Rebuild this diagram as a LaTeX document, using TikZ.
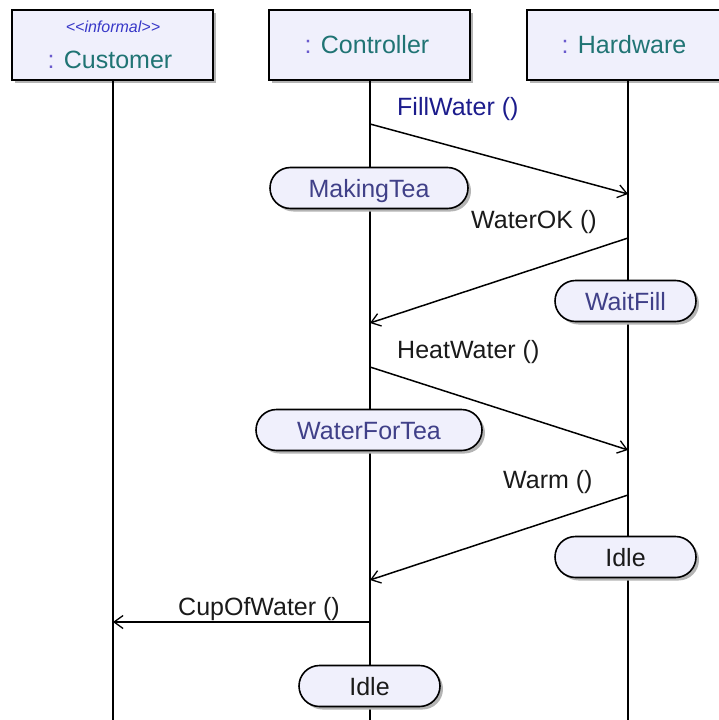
\documentclass[tikz,border=0pt]{standalone}
\usepackage{fontspec}
\setmainfont{Liberation Sans}
\usetikzlibrary{arrows.meta,shapes.misc,shadows}

\definecolor{boxfill}{HTML}{F0F0FC}
\definecolor{nametext}{HTML}{207474}
\definecolor{colontext}{HTML}{6A5ACD}
\definecolor{stereotext}{HTML}{3838C8}
\definecolor{statetext}{HTML}{404088}
\definecolor{calltext}{HTML}{1C1C8C}
\definecolor{msgtext}{HTML}{1A1A1A}
\definecolor{shade}{HTML}{B4B4B4}

\tikzset{
  every node/.style={font=\fontsize{25}{30}\selectfont, inner sep=0pt},
  obj/.style={draw=black, line width=2pt, fill=boxfill,
    minimum width=201pt, minimum height=70pt,
    drop shadow={shadow xshift=3pt, shadow yshift=-3pt, fill=shade, opacity=1}},
  objname/.style={text height=18pt, text depth=0pt},
  stereo/.style={font=\fontsize{16}{18}\selectfont\itshape, text=stereotext,
    text height=12pt, text depth=0pt},
  lifeline/.style={line width=2pt},
  statebox/.style={rounded rectangle, draw=black, line width=1.6pt, fill=boxfill,
    minimum height=41pt, text height=18pt, text depth=0pt, text=statetext,
    drop shadow={shadow xshift=3pt, shadow yshift=-3pt, fill=shade, opacity=1}},
  msg/.style={line width=1.5pt, -{Straight Barb[length=9pt, width=13pt, line width=1.3pt]}},
  msglabel/.style={anchor=base west, text=msgtext},
}

\newcommand{\objlabel}[1]{{\color{colontext}:} {\color{nametext}#1}}

\begin{document}
\begin{tikzpicture}[x=1pt, y=-1pt]
  \useasboundingbox (0,0) rectangle (719,720);
  \clip (0,0) rectangle (719,720);

  % object heads
  \node[obj] (cust) at (112.5,45) {};
  \node[obj] (ctrl) at (369.5,45) {};
  \node[obj] (hw)   at (627.5,45) {};
  \node[stereo] (custst) at (113,26) {{<}{<}informal{>}{>}};
  \node[objname] (custname) at (110,59) {\objlabel{Customer}};
  \node[objname] (ctrlname) at (367,44) {\objlabel{Controller}};
  \node[objname] (hwname)   at (624,44) {\objlabel{Hardware}};

  % lifeline ends
  \coordinate (custEnd) at (113,725);
  \coordinate (ctrlEnd) at (370,725);
  \coordinate (hwEnd)   at (628,725);

  \draw[lifeline] (cust.south -| custEnd) -- (custEnd);
  \draw[lifeline] (ctrl.south -| ctrlEnd) -- (ctrlEnd);
  \draw[lifeline] (hw.south -| hwEnd) -- (hwEnd);

  % message end points on the lifelines
  \coordinate (m1s) at (370,124);  \coordinate (m1e) at (628,194);
  \coordinate (m2s) at (628,238);  \coordinate (m2e) at (370,323);
  \coordinate (m3s) at (370,367);  \coordinate (m3e) at (628,450);
  \coordinate (m4s) at (628,495);  \coordinate (m4e) at (370,580);
  \coordinate (m5s) at (370,622);  \coordinate (m5e) at (113,622);

  \draw[msg] (m1s) -- (m1e);
  \draw[msg] (m2s) -- (m2e);
  \draw[msg] (m3s) -- (m3e);
  \draw[msg] (m4s) -- (m4e);
  \draw[msg] (m5s) -- (m5e);

  \node[msglabel, text=calltext] (l1) at (397,115) {FillWater ()};
  \node[msglabel] (l2) at (471,228) {WaterOK ()};
  \node[msglabel] (l3) at (397,358) {HeatWater ()};
  \node[msglabel] (l4) at (503,488) {Warm ()};
  \node[msglabel] (l5) at (178,615) {CupOfWater ()};

  % states on the lifelines
  \node[statebox, minimum width=198pt] (s1) at (369,188) {MakingTea};
  \node[statebox, minimum width=141pt] (s2) at (625.5,301) {WaitFill};
  \node[statebox, minimum width=226pt] (s3) at (369,430) {WaterForTea};
  \node[statebox, minimum width=141pt, text=msgtext] (s4) at (625.5,557) {Idle};
  \node[statebox, minimum width=141pt, text=msgtext] (s5) at (369.5,686) {Idle};
\end{tikzpicture}
\end{document}
